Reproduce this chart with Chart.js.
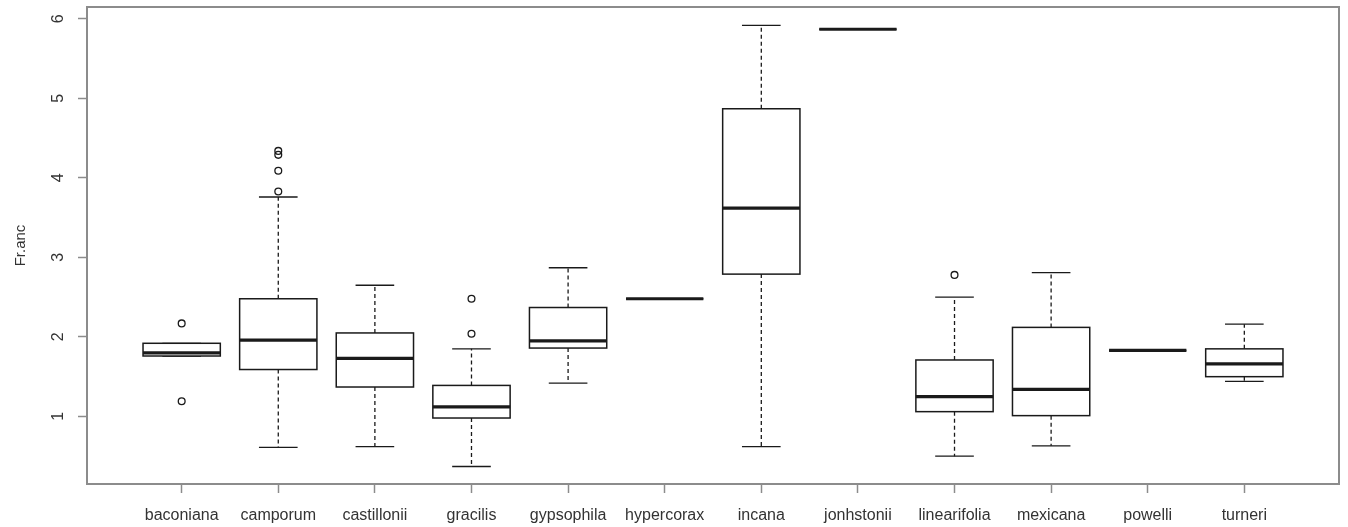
<!DOCTYPE html>
<html>
<head>
<meta charset="utf-8">
<title>Fr.anc boxplot</title>
<script src="https://cdn.jsdelivr.net/npm/chart.js@4.4.1/dist/chart.umd.min.js"></script>
<style>
  html, body { margin: 0; padding: 0; background: #fff; }
  #wrap { width: 1348px; height: 527px; position: relative; }
</style>
</head>
<body>
<div id="wrap"><canvas id="chart"></canvas></div>
<script>
// ---- data ----
const categories = ["baconiana", "camporum", "castillonii", "gracilis", "gypsophila", "hypercorax",
                    "incana", "jonhstonii", "linearifolia", "mexicana", "powelli", "turneri"];
const whiskerLow  = [1.76, 0.61, 0.62, 0.37, 1.42, 2.48, 0.62, 5.87, 0.50, 0.63, 1.83, 1.44];
const q1          = [1.76, 1.59, 1.37, 0.98, 1.86, 2.48, 2.79, 5.87, 1.06, 1.01, 1.83, 1.50];
const medians     = [1.80, 1.96, 1.73, 1.12, 1.95, 2.48, 3.62, 5.87, 1.25, 1.34, 1.83, 1.66];
const q3          = [1.92, 2.48, 2.05, 1.39, 2.37, 2.48, 4.87, 5.87, 1.71, 2.12, 1.83, 1.85];
const whiskerHigh = [1.92, 3.76, 2.65, 1.85, 2.87, 2.48, 5.92, 5.87, 2.50, 2.81, 1.83, 2.16];
// outliers: [category number, value]
const outliers = [[1, 2.17], [1, 1.19], [2, 3.83], [2, 4.09], [2, 4.29], [2, 4.34],
                  [4, 2.04], [4, 2.48], [9, 2.78]];
const yTicks = [1, 2, 3, 4, 5, 6];

const frameColor = "#8c8c8c";
const inkColor = "#1a1a1a";
const textColor = "#333";
const fontFamily = "'Liberation Sans', Arial, sans-serif";

// ---- box drawing (R style) ----
const boxPlugin = {
  id: "boxes",
  beforeDatasetsDraw(chart) {
    const { ctx, scales: { x, y } } = chart;
    ctx.save();
    categories.forEach((name, i) => {
      const c = i + 1;
      const xc = x.getPixelForValue(c);
      const xl = x.getPixelForValue(c - 0.4);
      const xr = x.getPixelForValue(c + 0.4);
      const cl = x.getPixelForValue(c - 0.2);
      const cr = x.getPixelForValue(c + 0.2);
      const yLo = y.getPixelForValue(whiskerLow[i]);
      const yHi = y.getPixelForValue(whiskerHigh[i]);
      const y1 = y.getPixelForValue(q1[i]);
      const y3 = y.getPixelForValue(q3[i]);
      const ym = y.getPixelForValue(medians[i]);

      ctx.strokeStyle = inkColor;
      // whiskers (dashed)
      ctx.lineWidth = 1.3;
      ctx.setLineDash([4, 3]);
      ctx.beginPath();
      ctx.moveTo(xc, y3); ctx.lineTo(xc, yHi);
      ctx.moveTo(xc, y1); ctx.lineTo(xc, yLo);
      ctx.stroke();
      ctx.setLineDash([]);
      // caps
      ctx.beginPath();
      ctx.moveTo(cl, yHi); ctx.lineTo(cr, yHi);
      ctx.moveTo(cl, yLo); ctx.lineTo(cr, yLo);
      ctx.stroke();
      // box
      ctx.fillStyle = "#fff";
      ctx.fillRect(xl, y3, xr - xl, y1 - y3);
      ctx.lineWidth = 1.5;
      ctx.strokeRect(xl, y3, xr - xl, y1 - y3);
      // median
      ctx.lineWidth = 3.2;
      ctx.beginPath();
      ctx.moveTo(xl, ym); ctx.lineTo(xr, ym);
      ctx.stroke();
    });
    ctx.restore();
  },
  afterDraw(chart) {
    const { ctx, chartArea: a } = chart;
    ctx.save();
    ctx.strokeStyle = frameColor;
    ctx.lineWidth = 2;
    ctx.strokeRect(a.left, a.top, a.right - a.left, a.bottom - a.top);
    ctx.restore();
  }
};

const ctx = document.getElementById("chart").getContext("2d");
new Chart(ctx, {
  type: "scatter",
  data: {
    datasets: [{
      label: "outliers",
      data: outliers.map(o => ({ x: o[0], y: o[1] })),
      pointStyle: "circle",
      pointRadius: 3.4,
      pointBorderWidth: 1.3,
      borderColor: inkColor,
      backgroundColor: "rgba(255,255,255,0)"
    }]
  },
  options: {
    responsive: true,
    maintainAspectRatio: false,
    animation: false,
    layout: { padding: { top: 7, right: 9, left: 0, bottom: 0 } },
    plugins: { legend: { display: false }, tooltip: { enabled: false } },
    scales: {
      x: {
        type: "linear",
        min: 0.02,
        max: 12.98,
        afterBuildTicks: s => { s.ticks = categories.map((c, i) => ({ value: i + 1 })); },
        afterFit: s => { s.height = 43; s.paddingLeft = 0; s.paddingRight = 0; },
        border: { display: false },
        grid: { drawOnChartArea: false, drawTicks: true, tickLength: 9, tickColor: frameColor, tickWidth: 1.5 },
        ticks: {
          autoSkip: false,
          maxRotation: 0,
          padding: 13,
          color: textColor,
          font: { family: fontFamily, size: 16 },
          callback: v => categories[v - 1]
        }
      },
      y: {
        type: "linear",
        min: 0.15,
        max: 6.15,
        afterBuildTicks: s => { s.ticks = yTicks.map(v => ({ value: v })); },
        afterFit: s => { s.width = 87; s.paddingTop = 0; s.paddingBottom = 0; },
        border: { display: false },
        grid: { drawOnChartArea: false, drawTicks: true, tickLength: 9, tickColor: frameColor, tickWidth: 1.5 },
        title: {
          display: true,
          text: "Fr.anc",
          color: textColor,
          font: { family: fontFamily, size: 15 },
          padding: { top: 12, bottom: 0 }
        },
        ticks: {
          minRotation: 90,
          maxRotation: 90,
          crossAlign: "center",
          padding: 15,
          color: textColor,
          font: { family: fontFamily, size: 16 }
        }
      }
    }
  },
  plugins: [boxPlugin]
});
</script>
</body>
</html>
